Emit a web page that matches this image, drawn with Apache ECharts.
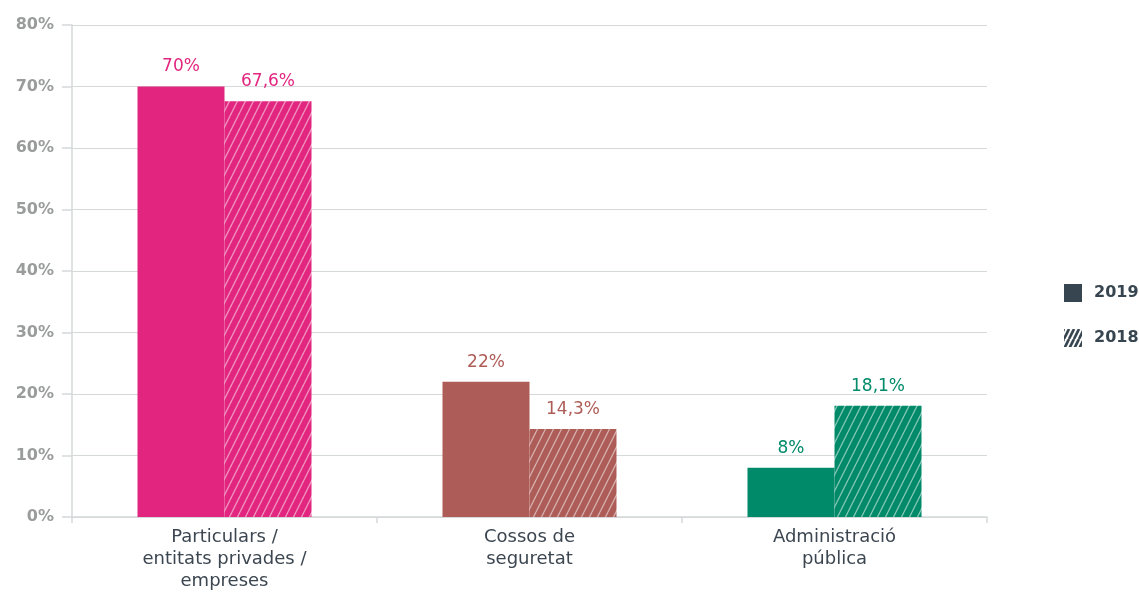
<!DOCTYPE html>
<html>
<head>
<meta charset="utf-8">
<script src="https://cdn.jsdelivr.net/npm/echarts@6/dist/echarts.min.js"></script>
<style>
  html, body { margin: 0; padding: 0; background: #fff; }
  #chart { width: 1139px; height: 592px; }
</style>
</head>
<body>
<div id="chart"></div>
<script>
const categories = ['Particulars /\nentitats privades /\nempreses', 'Cossos de\nseguretat', 'Administració\npública']
const valors2019 = [70, 22, 8]
const valors2018 = [67.6, 14.3, 18.1]
const colors = ['#e2267f', '#ad5c57', '#008a69']
const legendColor = '#36454f'

function ratllat(color) {
    const c = document.createElement('canvas')
    c.width = 8
    c.height = 16
    const ctx = c.getContext('2d')
    ctx.fillStyle = color
    ctx.fillRect(0, 0, 8, 16)
    ctx.strokeStyle = 'rgba(255,255,255,0.5)'
    ctx.lineWidth = 1.3
    for (let dx = -8; dx <= 8; dx += 8) {
        ctx.beginPath()
        ctx.moveTo(dx, 16)
        ctx.lineTo(dx + 8, 0)
        ctx.stroke()
    }
    return { image: c, repeat: 'repeat' }
}

// icona de la llegenda: ratlles fosques sobre blanc
function ratllatLlegenda(color) {
    const c = document.createElement('canvas')
    c.width = 5
    c.height = 10
    const ctx = c.getContext('2d')
    ctx.fillStyle = '#fff'
    ctx.fillRect(0, 0, 5, 10)
    ctx.strokeStyle = color
    ctx.lineWidth = 2.6
    for (let dx = -5; dx <= 5; dx += 5) {
        ctx.beginPath()
        ctx.moveTo(dx, 10)
        ctx.lineTo(dx + 5, 0)
        ctx.stroke()
    }
    return { image: c, repeat: 'repeat' }
}

function formatPct(p) {
    return String(p.value).replace('.', ',') + '%'
}

const dades2019 = valors2019.map((v, i) => ({
    value: v,
    itemStyle: { color: colors[i] },
    label: { color: colors[i] }
}))
const dades2018 = valors2018.map((v, i) => ({
    value: v,
    itemStyle: { color: ratllat(colors[i]) },
    label: { color: colors[i] }
}))

const option = {
    animation: false,
    textStyle: { fontFamily: 'DejaVu Sans' },
    grid: { left: 72, right: 152, top: 25, bottom: 75 },
    legend: {
        orient: 'vertical',
        top: 279,
        left: 1059,
        itemWidth: 18,
        itemHeight: 18,
        itemGap: 27,
        icon: 'rect',
        textStyle: { fontSize: 16, fontWeight: 'bold', color: legendColor, padding: [0, 0, 0, 7] },
        data: [
            { name: '2019', itemStyle: { color: legendColor } },
            { name: '2018', itemStyle: { color: ratllatLlegenda(legendColor) } }
        ]
    },
    xAxis: {
        type: 'category',
        data: categories,
        axisLine: { lineStyle: { color: '#d5d9d9', width: 1.5 } },
        axisTick: { show: true, length: 6, lineStyle: { color: '#d5d9d9', width: 1.5 } },
        axisLabel: { color: '#3c4650', fontSize: 18, lineHeight: 22, margin: 9 }
    },
    yAxis: {
        type: 'value',
        min: 0,
        max: 80,
        interval: 10,
        axisLine: { show: true, lineStyle: { color: '#d5d9d9', width: 1.5 } },
        axisTick: { show: true, length: 10, lineStyle: { color: '#d5d9d9', width: 1.5 } },
        splitLine: { lineStyle: { color: '#d5d9d9', width: 1.2 } },
        axisLabel: { color: '#9a9c9c', fontSize: 16, fontWeight: 'bold', margin: 18, formatter: '{value}%' }
    },
    series: [
        {
            name: '2019',
            type: 'bar',
            barWidth: 87,
            barGap: '0%',
            data: dades2019,
            label: { show: true, position: 'top', distance: 11, fontSize: 17, formatter: formatPct }
        },
        {
            name: '2018',
            type: 'bar',
            barWidth: 87,
            barGap: '0%',
            data: dades2018,
            label: { show: true, position: 'top', distance: 11, fontSize: 17, formatter: formatPct }
        }
    ]
}

const chart = echarts.init(document.getElementById('chart'))
chart.setOption(option)
</script>
</body>
</html>
